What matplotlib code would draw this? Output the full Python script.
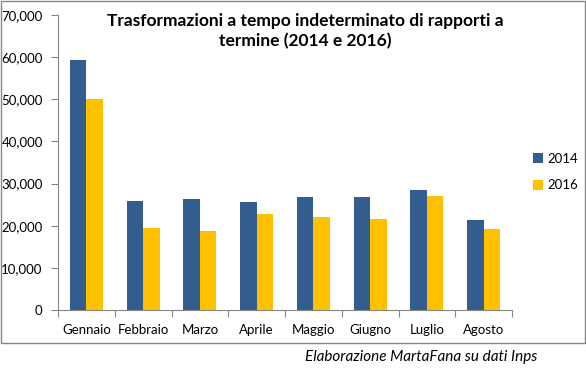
import matplotlib
matplotlib.use("Agg")
import matplotlib.pyplot as plt
import numpy as np
from matplotlib.patches import Rectangle
from matplotlib.ticker import FuncFormatter, FixedLocator

months = ["Gennaio", "Febbraio", "Marzo", "Aprile", "Maggio", "Giugno", "Luglio", "Agosto"]
values_2014 = [59300, 25800, 26300, 25550, 26800, 26800, 28400, 21300]
values_2016 = [50000, 19450, 18750, 22750, 22050, 21600, 27100, 19200]
series_labels = ["2014", "2016"]
colors = ["#335C8F", "#FFC000"]

plt.rcParams['font.family'] = ['Lato', 'DejaVu Sans']

W, H = 586, 375
fig = plt.figure(figsize=(W / 100, H / 100), dpi=100)
ax = fig.add_axes([58 / W, 1 - 310 / H, (512 - 58) / W, (310 - 15) / H])

x = np.arange(len(months))
bw = 0.29
ax.bar(x - bw / 2, values_2014, bw, color=colors[0], label=series_labels[0])
ax.bar(x + bw / 2, values_2016, bw, color=colors[1], label=series_labels[1])

ax.set_xlim(-0.5, len(months) - 0.5)
ax.set_ylim(0, 70000)
ax.set_yticks(np.arange(0, 70001, 10000))
ax.yaxis.set_major_formatter(FuncFormatter(lambda v, p: f"{int(v):,}"))
ax.set_xticks(x)
ax.set_xticklabels(months)
ax.xaxis.set_minor_locator(FixedLocator(np.arange(-0.5, len(months), 1.0)))
ax.tick_params(axis='x', which='major', length=0, pad=10, labelsize=9.5)
ax.tick_params(axis='x', which='minor', length=5, color='#868686', width=0.8)
ax.tick_params(axis='y', length=5, color='#868686', width=0.8, labelsize=9.5, pad=6)

for s in ["top", "right"]:
    ax.spines[s].set_visible(False)
for s in ["left", "bottom"]:
    ax.spines[s].set_color('#868686')
    ax.spines[s].set_linewidth(0.8)

# Title
fig.text(305 / W, 1 - 31 / H, "Trasformazioni a tempo indeterminato di rapporti a\ntermine (2014 e 2016)",
         ha='center', va='center', fontsize=12.5, fontweight='bold', linespacing=1.25)

# Legend
leg = fig.legend(loc='center left', bbox_to_anchor=(526 / W, 1 - 172 / H), frameon=False,
                 fontsize=9.5, handlelength=0.8, handleheight=0.8, handletextpad=0.3,
                 labelspacing=1.1, borderpad=0)

# Outer border
fig.add_artist(Rectangle((1 / W, 1 - 343 / H), 584 / W, 342 / H, transform=fig.transFigure,
                         fill=False, edgecolor='#868686', linewidth=1.0))

# Caption
fig.text(421 / W, 1 - 357 / H, "Elaborazione MartaFana su dati Inps", ha='center', va='center',
         fontsize=11, style='italic')

fig.savefig("out.png", dpi=100)
